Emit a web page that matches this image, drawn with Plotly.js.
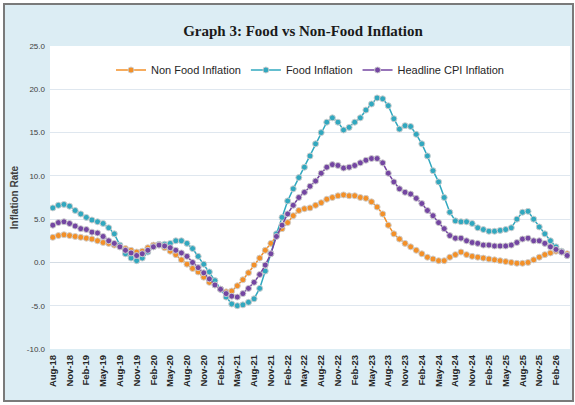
<!DOCTYPE html>
<html>
<head>
<meta charset="utf-8">
<script src="https://cdn.plot.ly/plotly-3.0.1.min.js"></script>
<style>
  html, body { margin: 0; padding: 0; background: #ffffff; }
  #chart { width: 575px; height: 405px; }
</style>
</head>
<body>
<div id="chart"></div>
<script>
const months = [
  'Aug-18','Sep-18','Oct-18','Nov-18','Dec-18','Jan-19','Feb-19','Mar-19','Apr-19','May-19','Jun-19','Jul-19',
  'Aug-19','Sep-19','Oct-19','Nov-19','Dec-19','Jan-20','Feb-20','Mar-20','Apr-20','May-20','Jun-20','Jul-20',
  'Aug-20','Sep-20','Oct-20','Nov-20','Dec-20','Jan-21','Feb-21','Mar-21','Apr-21','May-21','Jun-21','Jul-21',
  'Aug-21','Sep-21','Oct-21','Nov-21','Dec-21','Jan-22','Feb-22','Mar-22','Apr-22','May-22','Jun-22','Jul-22',
  'Aug-22','Sep-22','Oct-22','Nov-22','Dec-22','Jan-23','Feb-23','Mar-23','Apr-23','May-23','Jun-23','Jul-23',
  'Aug-23','Sep-23','Oct-23','Nov-23','Dec-23','Jan-24','Feb-24','Mar-24','Apr-24','May-24','Jun-24','Jul-24',
  'Aug-24','Sep-24','Oct-24','Nov-24','Dec-24','Jan-25','Feb-25','Mar-25','Apr-25','May-25','Jun-25','Jul-25',
  'Aug-25','Sep-25','Oct-25','Nov-25','Dec-25','Jan-26','Feb-26','Mar-26','Apr-26'
];

const tickLabels = [
  'Aug-18','Nov-18','Feb-19','May-19','Aug-19','Nov-19','Feb-20','May-20','Aug-20','Nov-20','Feb-21',
  'May-21','Aug-21','Nov-21','Feb-22','May-22','Aug-22','Nov-22','Feb-23','May-23','Aug-23','Nov-23',
  'Feb-24','May-24','Aug-24','Nov-24','Feb-25','May-25','Aug-25','Nov-25','Feb-26'
];

const nonFoodInflation = [
  2.9, 3.1, 3.2, 3.1, 3.0, 2.9, 2.8, 2.7, 2.5, 2.3, 2.2, 2.0,
  1.8, 1.6, 1.4, 1.2, 1.3, 1.7, 2.0, 2.0, 1.7, 1.3, 0.9, 0.3,
  -0.2, -0.7, -1.1, -1.7, -2.3, -2.6, -3.1, -3.4, -3.3, -2.7, -2.0, -1.2,
  -0.3, 0.5, 1.4, 2.2, 3.1, 3.9, 4.6, 5.4, 6.0, 6.2, 6.3, 6.6,
  6.9, 7.3, 7.5, 7.7, 7.8, 7.7, 7.7, 7.5, 7.4, 7.0, 6.4, 5.6,
  4.3, 3.3, 2.7, 2.2, 1.8, 1.4, 1.0, 0.6, 0.4, 0.2, 0.2, 0.6,
  0.9, 1.2, 0.9, 0.7, 0.6, 0.5, 0.4, 0.3, 0.2, 0.1, 0.0, -0.1,
  -0.1, 0.0, 0.3, 0.6, 0.9, 1.1, 1.3, 1.2, 1.0
];

const foodInflation = [
  6.3, 6.6, 6.7, 6.5, 6.0, 5.6, 5.2, 4.9, 4.7, 4.5, 4.0, 3.3,
  2.0, 1.0, 0.5, 0.2, 0.5, 1.2, 1.8, 2.1, 2.1, 2.2, 2.5, 2.5,
  2.2, 1.6, 0.7, -0.2, -1.1, -2.1, -3.1, -4.0, -4.8, -5.0, -4.9, -4.6,
  -4.2, -3.0, -1.0, 1.0, 3.3, 5.2, 7.1, 8.5, 9.8, 11.0, 12.3, 13.7,
  15.0, 16.2, 16.7, 16.2, 15.3, 15.6, 16.2, 16.7, 17.6, 18.3, 19.0, 18.9,
  18.1, 16.6, 15.4, 15.8, 15.7, 14.8, 13.7, 12.3, 10.6, 9.3, 7.5, 5.8,
  4.8, 4.7, 4.7, 4.5, 4.0, 3.8, 3.6, 3.6, 3.7, 3.8, 4.0, 5.0,
  5.8, 5.9, 5.0, 4.1, 3.3, 2.5, 1.8, 1.3, 0.8
];

const headlineInflation = [
  4.3, 4.6, 4.7, 4.5, 4.2, 3.9, 3.8, 3.5, 3.4, 3.0, 2.5, 2.2,
  1.8, 1.4, 1.1, 0.8, 1.0, 1.4, 1.8, 2.0, 1.9, 1.7, 1.4, 1.1,
  0.7, 0.0, -0.6, -1.2, -1.9, -2.6, -3.1, -3.6, -3.9, -4.0, -3.6, -3.0,
  -2.3, -1.4, -0.3, 1.0, 3.0, 4.3, 5.6, 6.6, 7.5, 8.1, 8.8, 9.4,
  10.3, 11.0, 11.3, 11.2, 10.9, 11.0, 11.2, 11.5, 11.8, 12.0, 12.0, 11.5,
  10.3, 9.3, 8.5, 8.1, 7.9, 7.4, 6.8, 6.0, 5.4, 4.6, 3.9, 3.1,
  2.8, 2.8, 2.5, 2.3, 2.2, 2.0, 2.0, 1.9, 1.9, 1.9, 2.0, 2.3,
  2.7, 2.8, 2.5, 2.5, 2.2, 1.8, 1.5, 1.2, 0.8
];

const yTicks = [-10, -5, 0, 5, 10, 15, 20, 25];
const yTickText = ['-10.0', '-5.0', '0.0', '5.0', '10.0', '15.0', '20.0', '25.0'];

function series(name, values, color) {
  return {
    type: 'scatter',
    mode: 'lines+markers',
    name: name,
    x: months,
    y: values,
    line: { color: color, width: 1.5 },
    marker: { color: color, size: 6, line: { color: 'rgba(205,205,205,0.95)', width: 1 } },
    hoverinfo: 'x+y+name'
  };
}

const traces = [
  series('Non Food Inflation', nonFoodInflation, '#f39028'),
  series('Food Inflation', foodInflation, '#31a8bf'),
  series('Headline CPI Inflation', headlineInflation, '#7446a2')
];

const W = 575, H = 405;
const M = { l: 50, r: 5, t: 46, b: 56 };
const pw = W - M.l - M.r, ph = H - M.t - M.b;
const px = v => (v - M.l) / pw;
const py = v => (H - M.b - v) / ph;

const layout = {
  width: W, height: H,
  margin: M,
  paper_bgcolor: '#ffffff',
  plot_bgcolor: 'rgba(0,0,0,0)',
  showlegend: true,
  title: {
    text: '<b>Graph 3: Food vs Non-Food Inflation</b>',
    font: { family: 'Liberation Serif, serif', size: 15, color: '#1a1a1a' },
    x: px(303), xanchor: 'center', xref: 'paper',
    y: 1 - 31 / H, yanchor: 'middle'
  },
  legend: {
    orientation: 'h',
    x: px(310), xanchor: 'center',
    y: py(70), yanchor: 'middle',
    font: { family: 'Liberation Sans, Arial, sans-serif', size: 11, color: '#262626' },
    bgcolor: 'rgba(0,0,0,0)',
    itemwidth: 30,
    tracegroupgap: 0
  },
  xaxis: {
    type: 'category',
    categoryorder: 'array',
    categoryarray: months,
    tickmode: 'array',
    tickvals: tickLabels,
    ticktext: tickLabels,
    tickangle: -90,
    tickfont: { family: 'Liberation Sans, Arial, sans-serif', size: 9.5, color: '#262626', weight: 'bold' },
    showgrid: false,
    zeroline: false,
    showline: false,
    ticks: '',
    ticklabelstandoff: 3,
    range: [-0.5, months.length - 0.5],
    fixedrange: true
  },
  yaxis: {
    range: [-10, 25],
    tickmode: 'array',
    tickvals: yTicks,
    ticktext: yTickText,
    tickfont: { family: 'Liberation Sans, Arial, sans-serif', size: 8, color: '#404040' },
    showgrid: true,
    gridcolor: '#dfe7ef',
    gridwidth: 1,
    zeroline: true,
    zerolinecolor: '#d4dce4',
    zerolinewidth: 1,
    showline: false,
    ticks: '',
    ticklabelstandoff: 4,
    title: {
      text: 'Inflation Rate',
      font: { family: 'Liberation Sans, Arial, sans-serif', size: 10, color: '#404040', weight: 'bold' },
      standoff: 6
    },
    fixedrange: true
  },
  shapes: [
    {
      type: 'rect', xref: 'paper', yref: 'paper', layer: 'below',
      x0: px(4), x1: px(573), y0: py(401), y1: py(4),
      fillcolor: '#dcedf4',
      line: { color: '#7a7a7a', width: 2 }
    },
    {
      type: 'rect', xref: 'paper', yref: 'paper', layer: 'below',
      x0: 0, x1: 1, y0: 0, y1: 1,
      fillcolor: '#ffffff',
      line: { width: 0 }
    }
  ]
};

Plotly.newPlot('chart', traces, layout, { staticPlot: true, displayModeBar: false });
</script>
</body>
</html>
